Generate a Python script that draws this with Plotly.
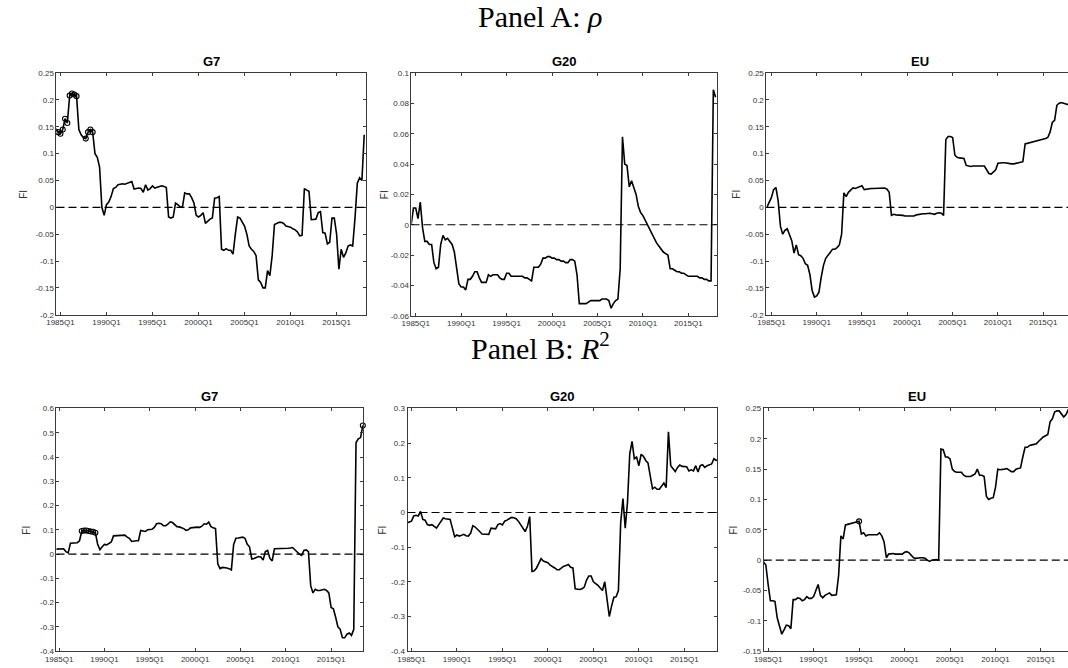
import plotly.graph_objects as go

# ---------------- data (quarterly) ----------------
x_tick_labels = ["1985Q1", "1990Q1", "1995Q1", "2000Q1", "2005Q1", "2010Q1", "2015Q1"]

# Panel A: rho
rho_g7_start = "1984Q3"
rho_g7 = [0.147, 0.140, 0.137, 0.145, 0.165, 0.157, 0.208, 0.212, 0.210, 0.207,
          0.145, 0.135, 0.130, 0.128, 0.140, 0.145, 0.140, 0.100, 0.093, 0.075,
          0.000, -0.015, 0.005, 0.010, 0.020, 0.035, 0.037, 0.042, 0.043, 0.044,
          0.043, 0.045, 0.047, 0.048, 0.034, 0.035, 0.036, 0.035, 0.028, 0.042,
          0.032, 0.035, 0.040, 0.036, 0.037, 0.038, 0.040, 0.039, 0.037, -0.018,
          -0.020, -0.018, 0.008, 0.005, 0.001, 0.000, 0.027, 0.025, 0.025, 0.018,
          0.008, -0.015, -0.018, -0.015, -0.010, -0.030, -0.025, -0.022, -0.020, 0.017,
          0.018, 0.020, -0.078, -0.080, -0.077, -0.080, -0.080, -0.087, -0.050, -0.018,
          -0.020, -0.028, -0.035, -0.050, -0.072, -0.078, -0.082, -0.090, -0.135, -0.140,
          -0.150, -0.150, -0.118, -0.127, -0.090, -0.032, -0.030, -0.028, -0.028, -0.030,
          -0.035, -0.036, -0.037, -0.040, -0.042, -0.046, -0.053, -0.052, 0.035, 0.032,
          0.030, -0.023, -0.022, -0.022, -0.010, -0.008, -0.047, -0.048, -0.068, -0.065,
          -0.020, -0.020, -0.050, -0.115, -0.078, -0.093, -0.085, -0.072, -0.070, -0.072,
          -0.020, 0.045, 0.055, 0.050, 0.135]
rho_g7_sig = ["1984Q3", "1984Q4", "1985Q1", "1985Q2", "1985Q3", "1985Q4", "1986Q1",
              "1986Q2", "1986Q3", "1986Q4", "1987Q4", "1988Q1", "1988Q2", "1988Q3"]

rho_g20_start = "1984Q3"
rho_g20 = [0.000, 0.011, 0.011, 0.004, 0.015, -0.002, -0.011, -0.011, -0.013, -0.013,
           -0.025, -0.029, -0.028, -0.013, -0.007, -0.010, -0.009, -0.011, -0.013, -0.018,
           -0.028, -0.039, -0.041, -0.041, -0.043, -0.036, -0.036, -0.034, -0.031, -0.031,
           -0.035, -0.038, -0.038, -0.038, -0.033, -0.034, -0.033, -0.033, -0.033, -0.035,
           -0.036, -0.036, -0.032, -0.032, -0.034, -0.034, -0.034, -0.034, -0.034, -0.034,
           -0.035, -0.035, -0.036, -0.037, -0.028, -0.028, -0.028, -0.026, -0.022, -0.022,
           -0.021, -0.021, -0.022, -0.022, -0.023, -0.023, -0.024, -0.024, -0.025, -0.025,
           -0.023, -0.023, -0.024, -0.033, -0.052, -0.052, -0.052, -0.052, -0.051, -0.050,
           -0.050, -0.050, -0.050, -0.050, -0.049, -0.049, -0.049, -0.050, -0.055, -0.052,
           -0.050, -0.049, -0.029, 0.058, 0.040, 0.039, 0.025, 0.029, 0.025, 0.020,
           0.012, 0.008, 0.006, 0.003, 0.000, -0.003, -0.007, -0.010, -0.012, -0.014,
           -0.016, -0.018, -0.019, -0.020, -0.029, -0.029, -0.030, -0.031, -0.031, -0.032,
           -0.032, -0.033, -0.034, -0.034, -0.034, -0.034, -0.034, -0.035, -0.035, -0.036,
           -0.036, -0.037, -0.037, 0.089, 0.084]

rho_eu_start = "1984Q3"
rho_eu = [0.000, 0.008, 0.018, 0.033, 0.037, 0.012, -0.035, -0.050, -0.043, -0.040,
          -0.050, -0.062, -0.085, -0.070, -0.088, -0.090, -0.095, -0.105, -0.108, -0.125,
          -0.155, -0.167, -0.165, -0.158, -0.130, -0.108, -0.095, -0.090, -0.083, -0.078,
          -0.078, -0.075, -0.070, -0.050, 0.027, 0.020, 0.028, 0.032, 0.036, 0.035,
          0.037, 0.038, 0.040, 0.033, 0.034, 0.034, 0.035, 0.035, 0.035, 0.035,
          0.036, 0.035, 0.036, 0.034, 0.028, -0.015, -0.013, -0.014, -0.014, -0.015,
          -0.015, -0.016, -0.016, -0.017, -0.017, -0.016, -0.014, -0.013, -0.013, -0.012,
          -0.012, -0.011, -0.011, -0.012, -0.013, -0.011, -0.010, -0.011, -0.015, 0.126,
          0.132, 0.132, 0.130, 0.097, 0.093, 0.092, 0.092, 0.091, 0.078, 0.077,
          0.076, 0.077, 0.077, 0.078, 0.078, 0.077, 0.077, 0.070, 0.063, 0.062,
          0.066, 0.070, 0.082, 0.083, 0.083, 0.083, 0.082, 0.081, 0.081, 0.081,
          0.082, 0.082, 0.083, 0.085, 0.118, 0.119, 0.120, 0.121, 0.122, 0.123,
          0.125, 0.126, 0.127, 0.128, 0.130, 0.140, 0.158, 0.162, 0.190, 0.194,
          0.195, 0.194, 0.192, 0.191, 0.190]

# Panel B: R^2
r2_g7_start = "1984Q3"
r2_g7 = [0.020, 0.020, 0.020, 0.022, 0.022, 0.010, 0.005, 0.045, 0.045, 0.045,
         0.047, 0.055, 0.095, 0.097, 0.097, 0.095, 0.093, 0.092, 0.088,
         0.040, 0.018, 0.030, 0.040, 0.038, 0.045, 0.050, 0.075, 0.075, 0.075,
         0.075, 0.076, 0.078, 0.070, 0.065, 0.052, 0.055, 0.055, 0.055, 0.097,
         0.095, 0.093, 0.100, 0.100, 0.102, 0.110, 0.125, 0.127, 0.125, 0.117,
         0.117, 0.123, 0.133, 0.130, 0.123, 0.113, 0.112, 0.110, 0.105, 0.098,
         0.100, 0.108, 0.110, 0.112, 0.111, 0.110, 0.115, 0.125, 0.123, 0.132,
         0.113, 0.108, 0.105, -0.040, -0.060, -0.055, -0.055, -0.057, -0.060, -0.065,
         0.040, 0.065, 0.066, 0.067, 0.070, 0.065, 0.040, 0.030, -0.020, -0.018,
         -0.015, -0.010, -0.012, -0.025, 0.010, 0.015, -0.018, -0.028, 0.022, 0.022,
         0.022, 0.021, 0.022, 0.022, 0.024, 0.025, 0.027, 0.018, 0.008, 0.000,
         -0.005, 0.015, 0.017, 0.010, -0.130, -0.160, -0.145, -0.150, -0.150, -0.148,
         -0.145, -0.150, -0.160, -0.220, -0.225, -0.260, -0.300, -0.310, -0.345, -0.345,
         -0.330, -0.325, -0.335, -0.310, 0.460, 0.475, 0.480, 0.530]
r2_g7_sig = ["1987Q3", "1987Q4", "1988Q1", "1988Q2", "1988Q3", "1988Q4", "1989Q1",
             "2018Q3"]

r2_g20_start = "1984Q3"
r2_g20 = [-0.030, -0.028, -0.025, -0.010, -0.008, -0.010, 0.003, -0.020, -0.022, -0.035,
          -0.037, -0.035, -0.040, -0.045, -0.035, -0.027, -0.016, -0.018, -0.018, -0.020,
          -0.045, -0.070, -0.065, -0.068, -0.066, -0.063, -0.067, -0.068, -0.060, -0.038,
          -0.042, -0.050, -0.055, -0.062, -0.062, -0.062, -0.063, -0.045, -0.045, -0.047,
          -0.035, -0.032, -0.036, -0.025, -0.022, -0.017, -0.014, -0.015, -0.018, -0.025,
          -0.035, -0.045, -0.055, -0.040, -0.012, -0.170, -0.168, -0.160, -0.145, -0.133,
          -0.140, -0.143, -0.145, -0.152, -0.155, -0.160, -0.165, -0.165, -0.160, -0.155,
          -0.153, -0.150, -0.158, -0.160, -0.220, -0.222, -0.222, -0.220, -0.215, -0.195,
          -0.183, -0.183, -0.200, -0.205, -0.210, -0.218, -0.225, -0.200, -0.250, -0.300,
          -0.270, -0.245, -0.243, -0.225, -0.030, 0.040, -0.045, 0.030, 0.170, 0.205,
          0.155, 0.160, 0.135, 0.168, 0.162, 0.150, 0.143, 0.100, 0.068, 0.073,
          0.067, 0.067, 0.075, 0.085, 0.072, 0.233, 0.135, 0.125, 0.118, 0.130,
          0.137, 0.133, 0.132, 0.132, 0.120, 0.123, 0.120, 0.135, 0.117, 0.135,
          0.138, 0.130, 0.135, 0.137, 0.140, 0.155, 0.150, 0.152]

r2_eu_start = "1984Q3"
r2_eu = [-0.003, -0.008, -0.040, -0.067, -0.067, -0.068, -0.095, -0.110, -0.122, -0.115,
         -0.107, -0.108, -0.113, -0.065, -0.065, -0.062, -0.063, -0.067, -0.065, -0.060,
         -0.063, -0.063, -0.060, -0.050, -0.040, -0.058, -0.062, -0.058, -0.056, -0.054,
         -0.058, -0.057, -0.057, -0.025, 0.040, 0.035, 0.058, 0.059, 0.060, 0.062,
         0.062, 0.063, 0.064, 0.043, 0.045, 0.040, 0.042, 0.042, 0.042, 0.042,
         0.042, 0.045, 0.040, 0.030, 0.004, 0.010, 0.011, 0.011, 0.010, 0.010,
         0.009, 0.010, 0.013, 0.014, 0.012, 0.007, 0.004, 0.003, 0.004, 0.004,
         0.004, 0.003, 0.000, -0.002, 0.000, 0.001, 0.001, 0.000, 0.183, 0.182,
         0.170, 0.170, 0.167, 0.150, 0.146, 0.145, 0.145, 0.145, 0.140, 0.138,
         0.138, 0.138, 0.140, 0.142, 0.150, 0.140, 0.140, 0.138, 0.105, 0.100,
         0.102, 0.103, 0.120, 0.150, 0.149, 0.149, 0.150, 0.151, 0.148, 0.146,
         0.146, 0.150, 0.151, 0.152, 0.170, 0.186, 0.186, 0.189, 0.190, 0.191,
         0.192, 0.196, 0.200, 0.203, 0.205, 0.207, 0.228, 0.233, 0.244, 0.246,
         0.246, 0.240, 0.236, 0.240, 0.248]
r2_eu_sig = ["1995Q1"]

y_ticks = {
    "A_G7": [-0.2, -0.15, -0.1, -0.05, 0, 0.05, 0.1, 0.15, 0.2, 0.25],
    "A_G20": [-0.06, -0.04, -0.02, 0, 0.02, 0.04, 0.06, 0.08, 0.1],
    "A_EU": [-0.2, -0.15, -0.1, -0.05, 0, 0.05, 0.1, 0.15, 0.2, 0.25],
    "B_G7": [-0.4, -0.3, -0.2, -0.1, 0, 0.1, 0.2, 0.3, 0.4, 0.5, 0.6],
    "B_G20": [-0.4, -0.3, -0.2, -0.1, 0, 0.1, 0.2, 0.3],
    "B_EU": [-0.15, -0.1, -0.05, 0, 0.05, 0.1, 0.15, 0.2, 0.25],
}


def qnum(label):
    yr, q = label.split("Q")
    return int(yr) + (int(q) - 1) / 4.0


def series_x(start, vals):
    s = qnum(start)
    return [s + i / 4.0 for i in range(len(vals))]


# ---------------- layout geometry (pixels) ----------------
W, H = 1068, 668
panels = [
    # key, title, start, values, sig, xpx(l,r), ypx(top,bottom), xrange, yrange, ylabel_x, full_box
    ("A_G7", "G7", rho_g7_start, rho_g7, rho_g7_sig, (45, 357.7), (70, 315),
     (1984.57, 2018.16), (-0.2, 0.25), 12, True),
    ("A_G20", "G20", rho_g20_start, rho_g20, [], (404, 712.7), (70, 316),
     (1984.53, 2018.12), (-0.06, 0.1), 377, True),
    ("A_EU", "EU", rho_eu_start, rho_eu, [], (763, 1068), (70, 315),
     (1984.455, 2017.73), (-0.2, 0.25), 733, False),
    ("B_G7", "G7", r2_g7_start, r2_g7, r2_g7_sig, (45, 355), (410, 656),
     (1984.71, 2018.52), (-0.4, 0.6), 15, True),
    ("B_G20", "G20", r2_g20_start, r2_g20, [], (400, 713.3), (410, 656),
     (1984.565, 2018.62), (-0.4, 0.3), 375, True),
    ("B_EU", "EU", r2_eu_start, r2_eu, r2_eu_sig, (760.3, 1068), (410, 656),
     (1984.52, 2017.97), (-0.15, 0.25), 730, False),
]

AX = "#3a3a3a"
SANS = "Liberation Sans, Arial, sans-serif"
fig = go.Figure()
annotations = []
shapes = []

for i, (key, title, start, vals, sig, xpx, ypx, xr, yr, ylx, full) in enumerate(panels):
    n = "" if i == 0 else str(i + 1)
    xa, ya = "x" + n, "y" + n
    xs = series_x(start, vals)
    fig.add_trace(go.Scatter(x=xs, y=vals, mode="lines", xaxis=xa, yaxis=ya,
                             line=dict(color="black", width=1.6), showlegend=False,
                             hoverinfo="skip"))
    if sig:
        sx = [qnum(s) for s in sig]
        sy = [vals[xs.index(v)] for v in sx]
        fig.add_trace(go.Scatter(x=sx, y=sy, mode="markers", xaxis=xa, yaxis=ya,
                                 marker=dict(symbol="circle-open", size=5, color="black",
                                             line=dict(width=1.1)),
                                 showlegend=False, hoverinfo="skip", cliponaxis=False))
    xdom = [xpx[0] / W, min(1.0, xpx[1] / W)]
    ydom = [1 - ypx[1] / H, 1 - ypx[0] / H]
    fig.layout["xaxis" + n] = dict(
        domain=xdom, range=list(xr), anchor=ya,
        tickvals=[qnum(t) for t in x_tick_labels], ticktext=x_tick_labels,
        ticks="inside", ticklen=3, tickcolor=AX, tickwidth=1,
        showline=True, linecolor=AX, linewidth=1, mirror="ticks",
        showgrid=False, zeroline=False,
        tickfont=dict(family=SANS, size=8, color="#333"),
    )
    yt = y_ticks[key]
    fig.layout["yaxis" + n] = dict(
        domain=ydom, range=list(yr), anchor=xa,
        tickvals=yt, ticktext=[f"{v:g}" for v in yt],
        ticks="inside", ticklen=3, tickcolor=AX, tickwidth=1,
        showline=True, linecolor=AX, linewidth=1, mirror="ticks" if full else False,
        showgrid=False, zeroline=False,
        tickfont=dict(family=SANS, size=8, color="#333"),
    )
    shapes.append(dict(type="line", xref=xa + " domain", yref=ya, x0=0, x1=1, y0=0, y1=0,
                       line=dict(color="black", width=1.1, dash="8px,4px"), layer="above"))
    # title centred over the (possibly clipped) axes box of ~310 px width
    right_px = xpx[1] if full else xpx[0] + 310
    annotations.append(dict(text="<b>" + title + "</b>", xref="paper", yref="paper",
                            x=(xpx[0] + right_px) / 2 / W,
                            y=1 - (ypx[0] - 12) / H, xanchor="center", yanchor="middle",
                            showarrow=False,
                            font=dict(family=SANS, size=13, color="black")))
    annotations.append(dict(text="FI", xref="paper", yref="paper", x=ylx / W,
                            y=1 - (ypx[0] + ypx[1]) / 2 / H, xanchor="center",
                            yanchor="middle", textangle=-90, showarrow=False,
                            font=dict(family=SANS, size=10, color="#333")))

annotations.append(dict(text="Panel A: <i>ρ</i>", xref="paper", yref="paper", x=0.5,
                        y=1 - 13 / H, xanchor="center", yanchor="middle", showarrow=False,
                        font=dict(family="Liberation Serif, Times New Roman, serif", size=30,
                                  color="black")))
annotations.append(dict(text="Panel B: <i>R</i><sup>2</sup>", xref="paper", yref="paper",
                        x=0.5, y=1 - 347 / H, xanchor="center", yanchor="middle",
                        showarrow=False,
                        font=dict(family="Liberation Serif, Times New Roman, serif", size=30,
                                  color="black")))

fig.update_layout(width=W, height=H, margin=dict(l=0, r=0, t=0, b=0),
                  paper_bgcolor="white", plot_bgcolor="white",
                  annotations=annotations, shapes=shapes)

fig.write_html("out.html", config={"displayModeBar": False},
               post_script="document.body.style.margin='0';"
                           "document.body.style.overflow='hidden';")
